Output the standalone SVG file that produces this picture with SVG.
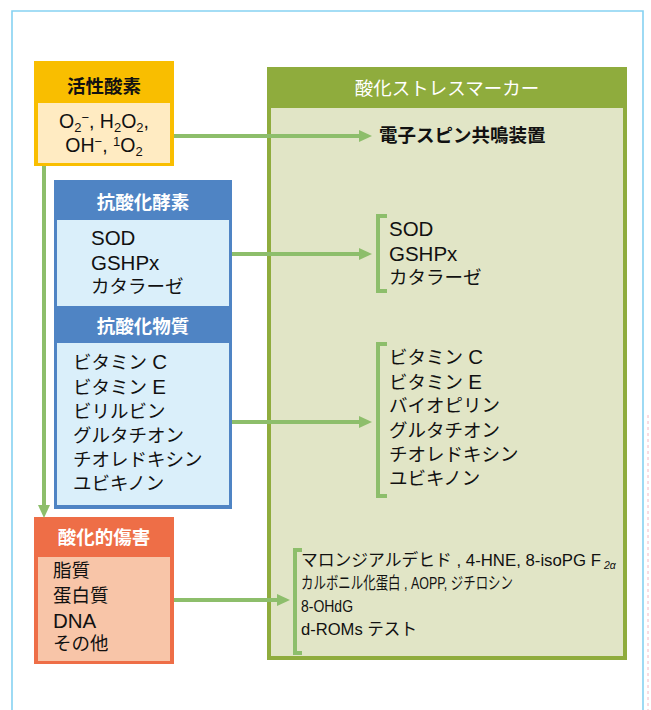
<svg xmlns="http://www.w3.org/2000/svg" width="651" height="710" viewBox="0 0 651 710">
<defs>
<style>
text{font-family:"Liberation Sans","Noto Sans CJK JP",sans-serif;fill:#111;}
.hd{font-size:18.5px;font-weight:bold;text-anchor:middle;}
.hn{font-size:18.5px;font-weight:normal;text-anchor:middle;}
.hw{fill:#fff;}
.b{font-size:18.5px;}
.L{font-size:20.5px;}
.s{font-size:17px;}
.cn{fill:none;stroke:#8DBE6B;stroke-width:4;}
.br{fill:none;stroke:#8DBE6B;stroke-width:4;}
</style>
<marker id="ah" markerUnits="userSpaceOnUse" markerWidth="14" markerHeight="14" refX="0" refY="7" orient="auto">
<path d="M0,1 L13,7 L0,13 Z" fill="#8DBE6B"/>
</marker>
</defs>
<rect x="0" y="0" width="651" height="710" fill="#fff"/>
<path d="M12,712 L12,11 L643,11 L643,712" fill="none" stroke="#86D2F2" stroke-width="1.6"/>
<line x1="648" y1="415" x2="648" y2="710" stroke="#F2B8C4" stroke-width="1" stroke-dasharray="3,3"/>

<g id="ros">
<rect x="34" y="61" width="140" height="105" fill="#F9BE00"/>
<rect x="38" y="103" width="132" height="60" fill="#FFEBC2"/>
<text class="hd" x="104" y="93">活性酸素</text>
<text x="104" y="128" text-anchor="middle" font-size="19.5">O<tspan font-size="13" dy="4">2</tspan><tspan dy="-10" font-size="13">−</tspan><tspan dy="6">, H</tspan><tspan font-size="13" dy="4">2</tspan><tspan dy="-4">O</tspan><tspan font-size="13" dy="4">2</tspan><tspan dy="-4">,</tspan></text>
<text x="104" y="152" text-anchor="middle" font-size="19.5">OH<tspan font-size="13" dy="-6">−</tspan><tspan dy="6">, </tspan><tspan font-size="13" dy="-6">1</tspan><tspan dy="6">O</tspan><tspan font-size="13" dy="4">2</tspan></text>
</g>

<g id="antioxidants">
<rect x="54" y="180" width="178" height="329" fill="#4F84C4"/>
<rect x="57" y="220" width="172" height="86" fill="#DAEFFA"/>
<rect x="57" y="343" width="172" height="162" fill="#DAEFFA"/>
<text class="hd hw" x="143" y="209">抗酸化酵素</text>
<text class="L" x="91" y="245">SOD</text>
<text class="L" x="91" y="269.5">GSHPx</text>
<text class="b" x="91" y="293">カタラーゼ</text>
<text class="hd hw" x="143" y="333">抗酸化物質</text>
<text class="b" x="73" y="369">ビタミン <tspan class="L">C</tspan></text>
<text class="b" x="73" y="393.5">ビタミン <tspan class="L">E</tspan></text>
<text class="b" x="73" y="418">ビリルビン</text>
<text class="b" x="73" y="442">グルタチオン</text>
<text class="b" x="73" y="466">チオレドキシン</text>
<text class="b" x="73" y="490">ユビキノン</text>
</g>

<g id="damage">
<rect x="34" y="517" width="140" height="147" fill="#EE6E47"/>
<rect x="38" y="557" width="132" height="104" fill="#F8C5A8"/>
<text class="hd hw" x="104" y="544">酸化的傷害</text>
<text class="b" x="53" y="577">脂質</text>
<text class="b" x="53" y="601.5">蛋白質</text>
<text class="L" x="53" y="627.5">DNA</text>
<text class="b" x="53" y="650">その他</text>
</g>

<g id="markers">
<rect x="267" y="67" width="360" height="593" fill="#8FAC3D"/>
<rect x="271" y="108" width="352" height="548" fill="#E1E5C6"/>
<text class="hn hw" x="447" y="95">酸化ストレスマーカー</text>
<text class="b" x="379" y="142" font-weight="bold">電子スピン共鳴装置</text>
<path class="br" d="M387,216 L378,216 L378,291 L387,291"/>
<text class="L" x="389" y="236">SOD</text>
<text class="L" x="389" y="260.5">GSHPx</text>
<text class="b" x="389" y="284">カタラーゼ</text>
<path class="br" d="M387,344 L378,344 L378,496 L387,496"/>
<text class="b" x="389" y="364">ビタミン <tspan class="L">C</tspan></text>
<text class="b" x="389" y="388.5">ビタミン <tspan class="L">E</tspan></text>
<text class="b" x="389" y="412">バイオピリン</text>
<text class="b" x="389" y="436.5">グルタチオン</text>
<text class="b" x="389" y="461">チオレドキシン</text>
<text class="b" x="389" y="485">ユビキノン</text>
<path class="br" d="M302,550 L295,550 L295,653 L302,653" stroke-width="3"/>
<text class="s" x="301" y="566" textLength="300" lengthAdjust="spacingAndGlyphs">マロンジアルデヒド , 4-HNE, 8-isoPG F</text>
<text x="604" y="569" font-size="10.5" font-style="italic">2α</text>
<text class="s" x="301" y="589" textLength="212" lengthAdjust="spacingAndGlyphs">カルボニル化蛋白 , AOPP, ジチロシン</text>
<text class="s" x="301" y="612" textLength="52" lengthAdjust="spacingAndGlyphs">8-OHdG</text>
<text class="s" x="301" y="635" textLength="116" lengthAdjust="spacingAndGlyphs">d-ROMs テスト</text>
</g>

<g id="connectors">
<line class="cn" x1="44" y1="166" x2="44" y2="505" marker-end="url(#ah)"/>
<line class="cn" x1="174" y1="136" x2="359" y2="136" marker-end="url(#ah)"/>
<line class="cn" x1="232" y1="254" x2="359" y2="254" marker-end="url(#ah)"/>
<line class="cn" x1="232" y1="422" x2="359" y2="422" marker-end="url(#ah)"/>
<line class="cn" x1="174" y1="600" x2="277" y2="600" marker-end="url(#ah)"/>
</g>
</svg>
